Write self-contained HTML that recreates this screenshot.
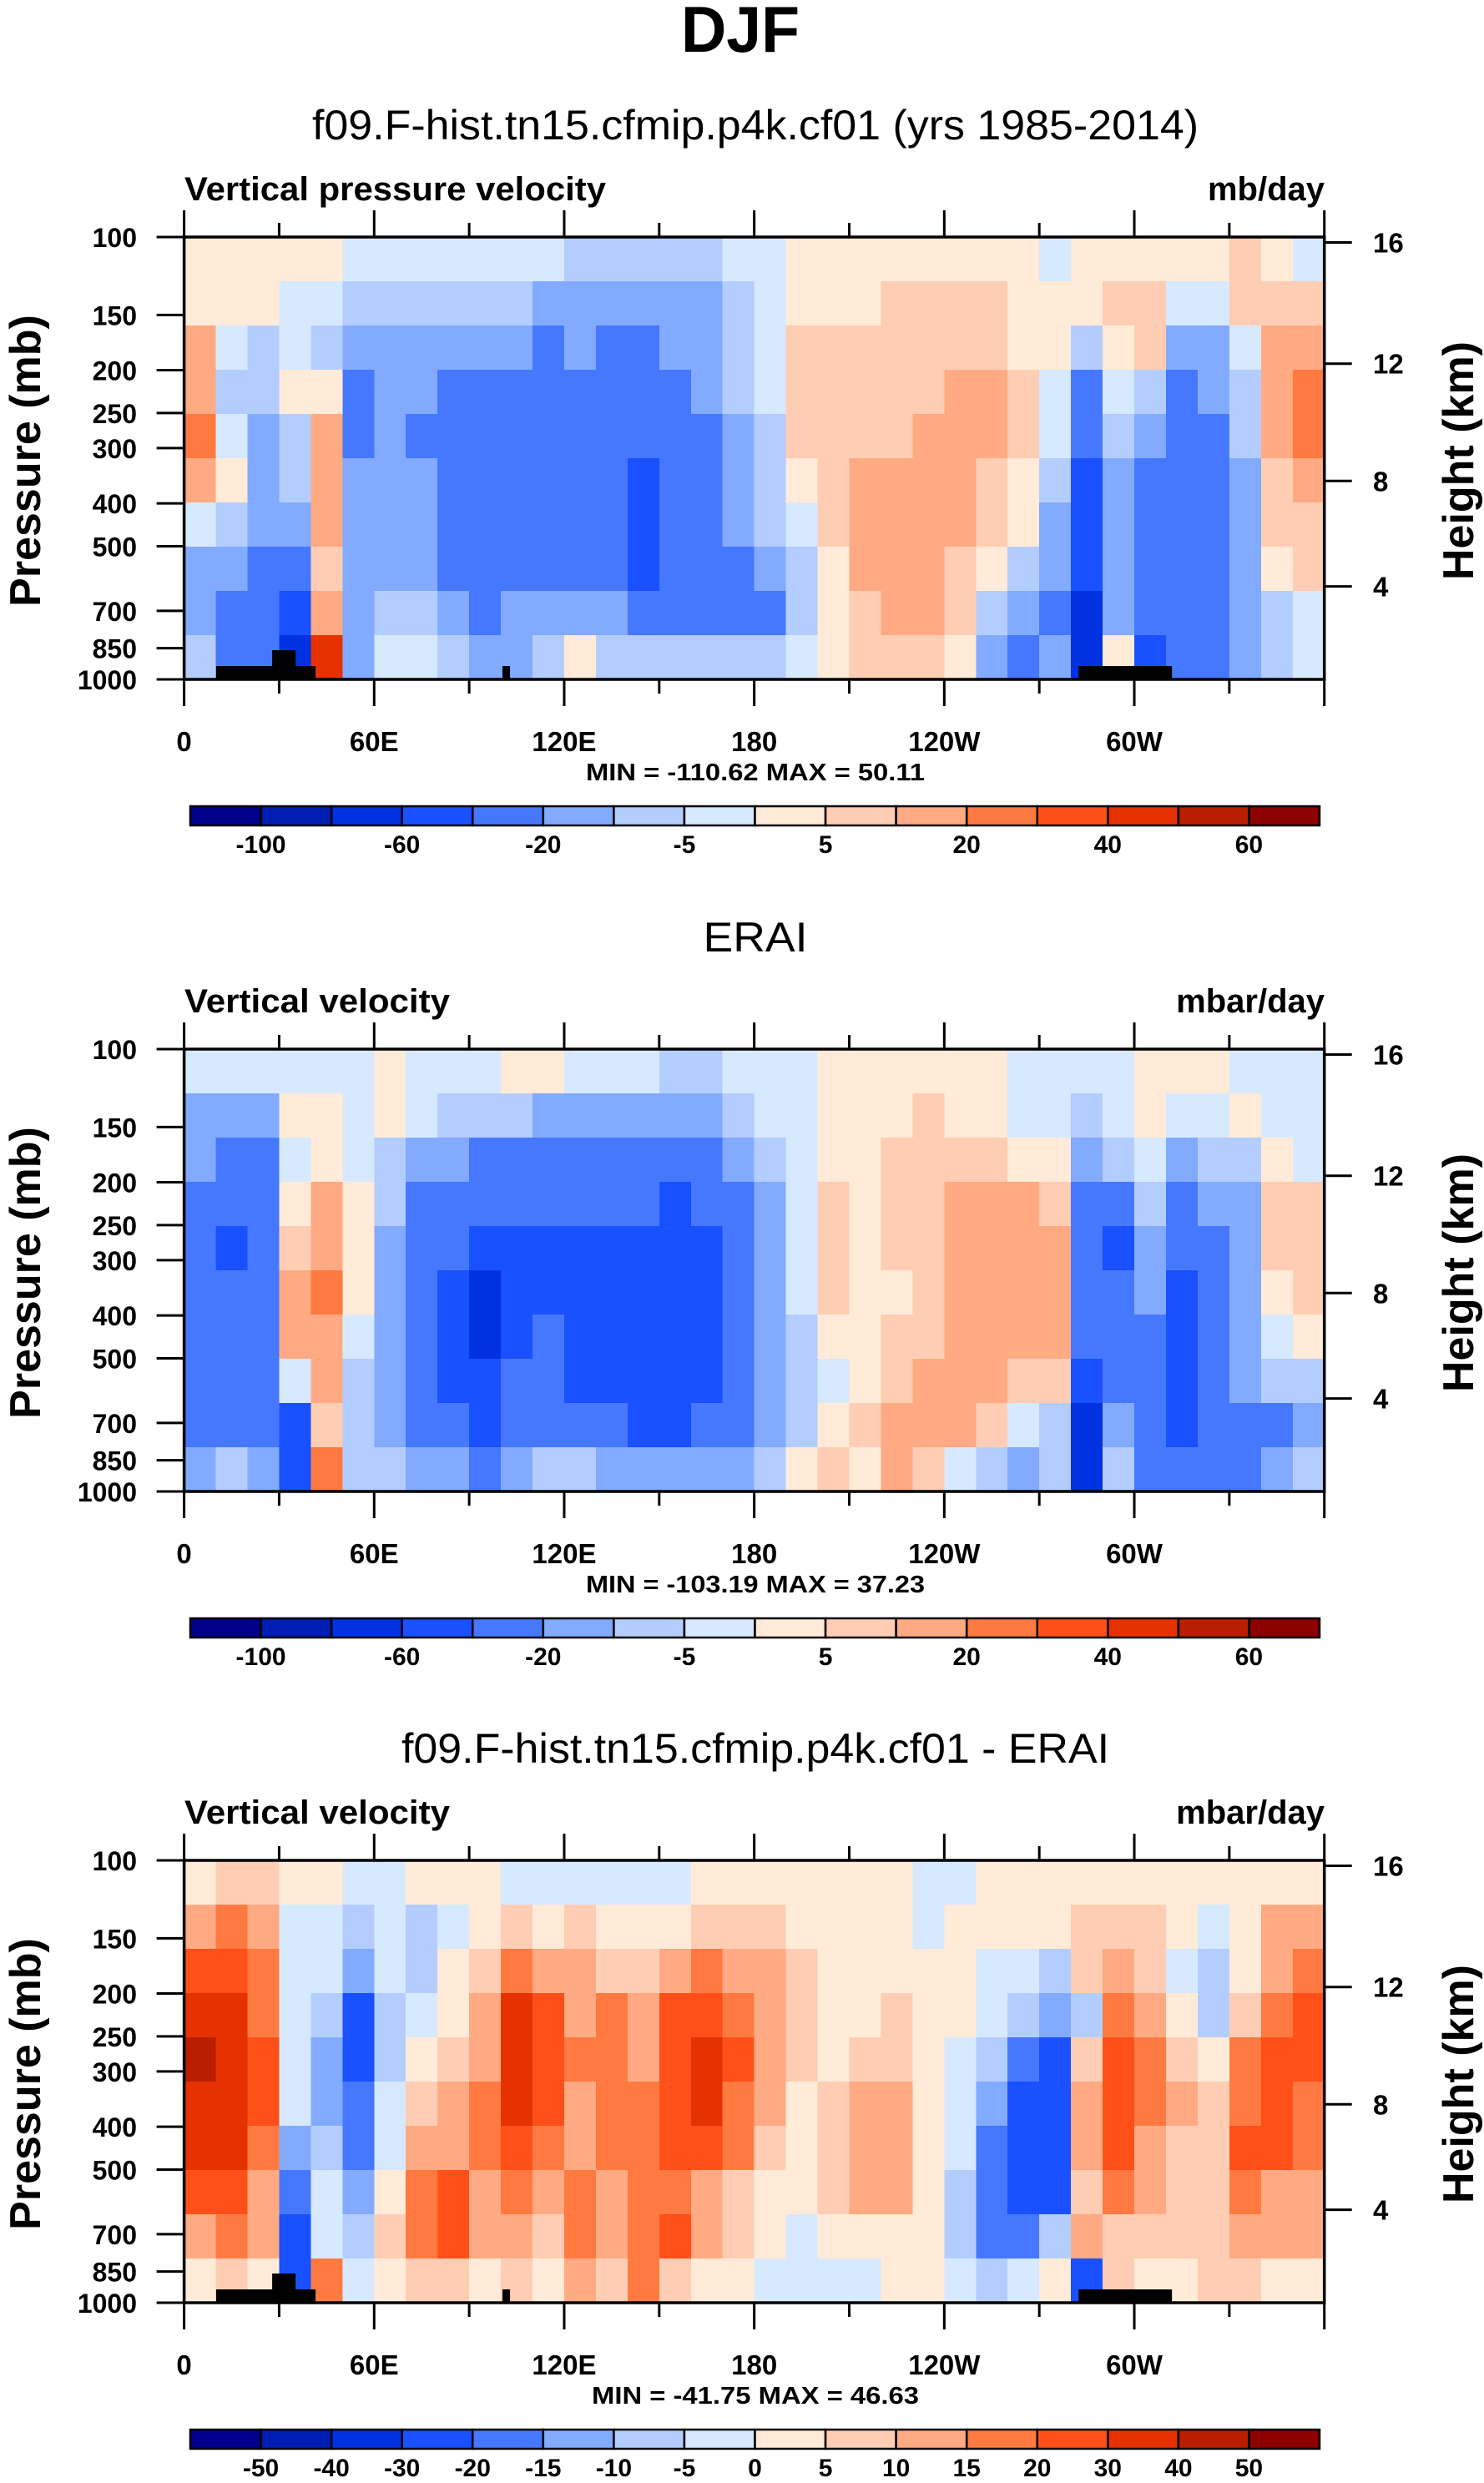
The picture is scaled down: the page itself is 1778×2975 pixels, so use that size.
<!DOCTYPE html>
<html><head><meta charset="utf-8"><style>
html,body{margin:0;padding:0;background:#fff;}
svg{display:block;font-family:"Liberation Sans",Arial,sans-serif;}
</style></head><body>
<svg id="fig" width="1778" height="2975" viewBox="0 0 1778 2975" xmlns="http://www.w3.org/2000/svg">
<text x="887" y="62" text-anchor="middle" font-weight="bold" font-size="78" textLength="142" lengthAdjust="spacingAndGlyphs">DJF</text>
</svg>
<script>
const lonTickLabels = ["0","60E","120E","180","120W","60W"];
const pressureTicks = [100,150,200,250,300,400,500,700,850,1000];
const heightTicks = [16,12,8,4];
const levelsAbs = [-100,-80,-60,-40,-20,-10,-5,0,5,10,20,30,40,50,60];
const levelsDiff = [-50,-40,-30,-20,-15,-10,-5,0,5,10,15,20,30,40,50];
const palette = ["#00008c","#001eb4","#0032e1","#1950ff","#4678ff","#82aaff","#b4cdff","#d7e9ff","#ffebd7","#ffcdb4","#ffaa82","#ff7a41","#ff5019","#e63200","#b91e00","#8c0000"];
// rows: top (100mb) to bottom (1000mb); columns: 0-10E ... 350-360
const modelValues = [
[2,2,2,2,2,-2,-2,-2,-2,-2,-2,-2,-7,-7,-7,-7,-7,-2,-2,2,2,2,2,2,2,2,2,-2,2,2,2,2,2,7,2,-2],
[2,2,2,-2,-2,-7,-7,-7,-7,-7,-7,-15,-15,-15,-15,-15,-15,-7,-2,2,2,2,7,7,7,7,2,2,2,7,7,-2,-2,7,7,7],
[15,-2,-7,-2,-7,-15,-15,-15,-15,-15,-15,-30,-15,-30,-30,-15,-15,-7,-2,7,7,7,7,7,7,7,2,2,-7,2,7,-15,-15,-2,15,15],
[15,-7,-7,2,2,-30,-15,-15,-30,-30,-30,-30,-30,-30,-30,-30,-15,-7,-2,7,7,7,7,7,15,15,7,-2,-30,-2,-7,-30,-15,-7,15,25],
[25,-2,-15,-7,15,-30,-15,-30,-30,-30,-30,-30,-30,-30,-30,-30,-30,-15,-7,7,7,7,7,15,15,15,7,-2,-30,-7,-15,-30,-30,-7,15,25],
[15,2,-15,-7,15,-15,-15,-15,-30,-30,-30,-30,-30,-30,-50,-30,-30,-15,-7,2,7,15,15,15,15,7,2,-7,-50,-15,-30,-30,-30,-15,7,15],
[-2,-7,-15,-15,15,-15,-15,-15,-30,-30,-30,-30,-30,-30,-50,-30,-30,-15,-7,-2,7,15,15,15,15,7,2,-15,-50,-15,-30,-30,-30,-15,7,7],
[-15,-15,-30,-30,7,-15,-15,-15,-30,-30,-30,-30,-30,-30,-50,-30,-30,-30,-15,-7,2,15,15,15,7,2,-7,-15,-50,-15,-30,-30,-30,-15,2,7],
[-15,-30,-30,-50,15,-15,-7,-7,-15,-30,-15,-15,-15,-15,-30,-30,-30,-30,-30,-7,2,7,15,15,7,-7,-15,-30,-70,-15,-30,-30,-30,-15,-7,-2],
[-7,-30,-30,-70,45,-15,-2,-2,-7,-15,-15,-7,2,-7,-7,-7,-7,-7,-7,-2,2,7,7,7,2,-15,-30,-15,-70,2,-50,-30,-30,-15,-7,-2]
];
const eraiValues = [
[-2,-2,-2,-2,-2,-2,2,-2,-2,-2,2,2,-2,-2,-2,-7,-7,-2,-2,-2,2,2,2,2,2,2,-2,-2,-2,-2,2,2,2,-2,-2,-2],
[-15,-15,-15,2,2,-2,2,-2,-7,-7,-7,-15,-15,-15,-15,-15,-15,-7,-2,-2,2,2,2,7,2,2,-2,-2,-7,-2,2,-2,-2,2,-2,-2],
[-15,-30,-30,-2,2,-2,-7,-15,-15,-30,-30,-30,-30,-30,-30,-30,-30,-15,-7,-2,2,2,7,7,7,7,2,2,-15,-7,-2,-15,-7,-7,2,-2],
[-30,-30,-30,2,15,2,-7,-30,-30,-30,-30,-30,-30,-30,-30,-50,-30,-30,-15,-2,7,2,7,7,15,15,15,7,-30,-30,-7,-30,-15,-15,7,7],
[-30,-50,-30,7,15,2,-15,-30,-30,-50,-50,-50,-50,-50,-50,-50,-50,-30,-15,-2,7,2,7,7,15,15,15,15,-30,-50,-15,-30,-30,-15,7,7],
[-30,-30,-30,15,25,2,-15,-30,-50,-70,-50,-50,-50,-50,-50,-50,-50,-30,-15,-2,7,2,2,7,15,15,15,15,-30,-30,-15,-50,-30,-15,2,7],
[-30,-30,-30,15,15,-2,-15,-30,-50,-70,-50,-30,-50,-50,-50,-50,-50,-30,-15,-7,2,2,7,7,15,15,15,15,-30,-30,-30,-50,-30,-15,-2,2],
[-30,-30,-30,-2,15,-7,-15,-30,-50,-50,-30,-30,-50,-50,-50,-50,-50,-30,-15,-7,-2,2,7,15,15,15,7,7,-50,-30,-30,-50,-30,-15,-7,-7],
[-30,-30,-30,-50,7,-7,-15,-30,-30,-50,-30,-30,-30,-30,-50,-50,-30,-30,-15,-7,2,7,15,15,15,7,-2,-7,-70,-15,-30,-50,-30,-30,-30,-15],
[-15,-7,-15,-50,25,-7,-7,-15,-15,-30,-15,-7,-7,-15,-15,-15,-15,-15,-7,2,7,2,15,7,-2,-7,-15,-7,-70,-7,-30,-30,-30,-30,-15,-7]
];
const diffValues = [
[2,7,7,2,2,-2,-2,2,2,2,-2,-2,-2,-2,-2,-2,2,2,2,2,2,2,2,-2,-2,2,2,2,2,2,2,2,2,2,2,2],
[12,17,12,-2,-2,-7,-2,-7,-2,2,7,2,7,2,2,2,7,7,7,2,2,2,2,-2,2,2,2,2,7,7,7,2,-2,2,12,12],
[25,25,17,-2,-2,-12,-2,-7,2,7,17,12,12,7,7,12,17,12,12,7,2,2,2,2,2,-2,-2,-7,7,12,7,-2,-7,2,12,17],
[35,35,17,-2,-7,-25,-7,-2,2,12,35,25,12,17,12,25,25,17,12,7,2,2,7,2,2,-2,-7,-12,-7,17,12,2,-7,7,17,25],
[45,35,25,-2,-12,-25,-7,2,7,12,35,25,17,17,12,25,35,25,12,7,2,7,7,2,-2,-7,-17,-25,7,25,17,7,2,17,25,25],
[35,35,25,-2,-12,-17,-2,7,12,17,35,25,12,17,17,25,35,17,12,2,7,12,12,2,-2,-12,-25,-25,12,25,17,12,7,17,25,17],
[35,35,17,-12,-7,-17,-2,12,12,17,25,17,12,17,17,25,25,17,7,2,7,12,12,2,-2,-17,-25,-25,12,25,12,7,7,25,25,17],
[25,25,12,-17,-2,-12,2,17,25,12,17,12,17,12,17,17,12,7,2,2,7,12,12,2,-7,-17,-25,-25,7,17,12,7,7,17,12,12],
[12,17,12,-25,-2,-7,7,17,25,12,12,7,17,12,17,25,12,7,2,-2,2,2,2,2,-7,-17,-17,-7,12,7,7,7,7,12,12,12],
[2,7,2,-25,17,-2,2,7,7,2,7,2,12,7,17,7,2,2,-2,-2,-2,-2,2,2,-2,-7,-2,2,-25,7,2,2,7,7,2,2]
];
// topography boxes: [lonStart, lonEnd, topPressure]
const topoBoxes = [[10.1,41.5,933],[27.8,35.2,859],[100.5,102.9,933],[282.4,311.9,933]];

const NS = "http://www.w3.org/2000/svg";
const svg = document.getElementById("fig");
const X0 = 220.6, X1 = 1586.7, PH = 530;
function mk(tag, attrs, parent){ const e = document.createElementNS(NS, tag); for (const k in attrs) e.setAttribute(k, attrs[k]); (parent||svg).appendChild(e); return e; }
function xOfLon(lon){ return X0 + lon/360*(X1-X0); }
function yOfP(top, p){ return top + (Math.log10(p)-2)*PH; }
function pOfHeightKm(z){ const m=z*1000; if (m<=11000) return 1013.25*Math.pow(1-2.25577e-5*m,5.25588); return 226.32*Math.exp(-(m-11000)/6341.6); }
function classOf(v, levels){ let c=0; for (const l of levels) if (v>=l) c++; return c; }

function panel(off, cfg){
  const top = 284 + off;
  const g = mk("g", {});
  
  
  const t = mk("text", {x:905, y:167+off, "text-anchor":"middle", "font-size":50, textLength:cfg.titleLen, lengthAdjust:"spacingAndGlyphs"}, g);
  t.textContent = cfg.title;
  
  
  const lt = mk("text", {x:221, y:240+off, "font-size":40, "font-weight":"bold", textLength:cfg.leftLen, lengthAdjust:"spacingAndGlyphs"}, g);
  lt.textContent = cfg.left;
  
  
  const rt = mk("text", {x:1587, y:240+off, "font-size":40, "font-weight":"bold", "text-anchor":"end"}, g);
  rt.textContent = cfg.units;
  
  
  const cg = mk("g", {"shape-rendering":"crispEdges"}, g);
  
  
  const vals = cfg.values, nr = vals.length;
  for (let j=0;j<nr;j++){
    const nc = vals[j].length;
    const pTop = Math.pow(10, 2 + j/nr), pBot = Math.pow(10, 2 + (j+1)/nr);
    const y0 = yOfP(top,pTop), y1 = yOfP(top,pBot);
    for (let i=0;i<nc;i++){
      const xa = xOfLon(i*360/nc), xb = xOfLon((i+1)*360/nc);
      const r = mk("rect", {x:xa.toFixed(2), y:y0.toFixed(2), width:(xb-xa+0.6).toFixed(2), height:(y1-y0+0.6).toFixed(2), fill:palette[classOf(vals[j][i], cfg.levels)]}, cg);
      
      
    }
  }
  if (cfg.topo){
    for (const b of topoBoxes){
      const xa = xOfLon(b[0]), xb = xOfLon(b[1]), ya = yOfP(top,b[2]);
      const r = mk("rect", {x:xa, y:ya, width:xb-xa, height:top+PH-ya, fill:"#000"}, g);
      
      
    }
  }
  const fr = mk("rect", {x:X0, y:top, width:X1-X0, height:PH, fill:"none", stroke:"#000", "stroke-width":3.5}, g);
  
  
  for (let lon=0; lon<=360; lon+=30){
    const x = xOfLon(lon), major = lon%60===0, len = major?32:17;
    mk("line", {x1:x, y1:top, x2:x, y2:top-len, stroke:"#000", "stroke-width":3}, g);
    mk("line", {x1:x, y1:top+PH, x2:x, y2:top+PH+len, stroke:"#000", "stroke-width":3}, g);
  }
  lonTickLabels.forEach((lab,k)=>{
    const tx = mk("text", {x:xOfLon(k*60), y:900+off, "text-anchor":"middle", "font-size":33, "font-weight":"bold"}, g);
    tx.textContent = lab;
    
    
  });
  pressureTicks.forEach(p=>{
    const y = yOfP(top,p);
    mk("line", {x1:X0, y1:y, x2:X0-33, y2:y, stroke:"#000", "stroke-width":3}, g);
    const tx = mk("text", {x:164, y:y+12, "text-anchor":"end", "font-size":32, "font-weight":"bold"}, g);
    tx.textContent = p;
    
    
  });
  heightTicks.forEach(h=>{
    const y = yOfP(top, pOfHeightKm(h));
    mk("line", {x1:X1, y1:y, x2:X1+33, y2:y, stroke:"#000", "stroke-width":3}, g);
    const tx = mk("text", {x:1645, y:y+12, "font-size":33, "font-weight":"bold"}, g);
    tx.textContent = h;
    
    
  });
  const ya = mk("text", {x:0, y:0, transform:`translate(48,${552+off}) rotate(-90)`, "text-anchor":"middle", "font-size":52, "font-weight":"bold"}, g);
  ya.textContent = "Pressure (mb)";
  
  
  const yb = mk("text", {x:0, y:0, transform:`translate(1765,${552+off}) rotate(-90)`, "text-anchor":"middle", "font-size":52, "font-weight":"bold"}, g);
  yb.textContent = "Height (km)";
  
  
  const mm = mk("text", {x:905, y:935+off, "text-anchor":"middle", "font-size":29, "font-weight":"bold", textLength:cfg.minmaxLen, lengthAdjust:"spacingAndGlyphs", "xml:space":"preserve"}, g);
  mm.textContent = cfg.minmax;
  
  
  const cb = mk("g", {}, g);
  
  
  const cbx = 228, cbw = (1581-228)/16, cby = 966+off, cbh = 23;
  for (let k=0;k<16;k++){
    const r = mk("rect", {x:cbx+k*cbw, y:cby, width:cbw, height:cbh, fill:palette[k], stroke:"#000", "stroke-width":2.5}, cb);
    
    
  }
  cfg.levels.forEach((l,k)=>{
    if (cfg.labelEvery===2 && k%2===1) return;
    const tx = mk("text", {x:cbx+(k+1)*cbw, y:1022+off, "text-anchor":"middle", "font-size":30, "font-weight":"bold"}, cb);
    tx.textContent = l;
    
    
  });
}
panel(0, {name:"model-panel", title:"f09.F-hist.tn15.cfmip.p4k.cf01 (yrs 1985-2014)", titleLen:1062, left:"Vertical pressure velocity", leftLen:505, units:"mb/day", values:modelValues, levels:levelsAbs, labelEvery:2, topo:true, minmax:"MIN = -110.62  MAX =  50.11", minmaxLen:406});
panel(973, {name:"erai-panel", title:"ERAI", titleLen:125, left:"Vertical velocity", leftLen:318, units:"mbar/day", values:eraiValues, levels:levelsAbs, labelEvery:2, topo:false, minmax:"MIN = -103.19  MAX =  37.23", minmaxLen:406});
panel(1945, {name:"difference-panel", title:"f09.F-hist.tn15.cfmip.p4k.cf01 - ERAI", titleLen:848, left:"Vertical velocity", leftLen:318, units:"mbar/day", values:diffValues, levels:levelsDiff, labelEvery:1, topo:true, minmax:"MIN = -41.75  MAX =  46.63", minmaxLen:392});
</script>
</body></html>
